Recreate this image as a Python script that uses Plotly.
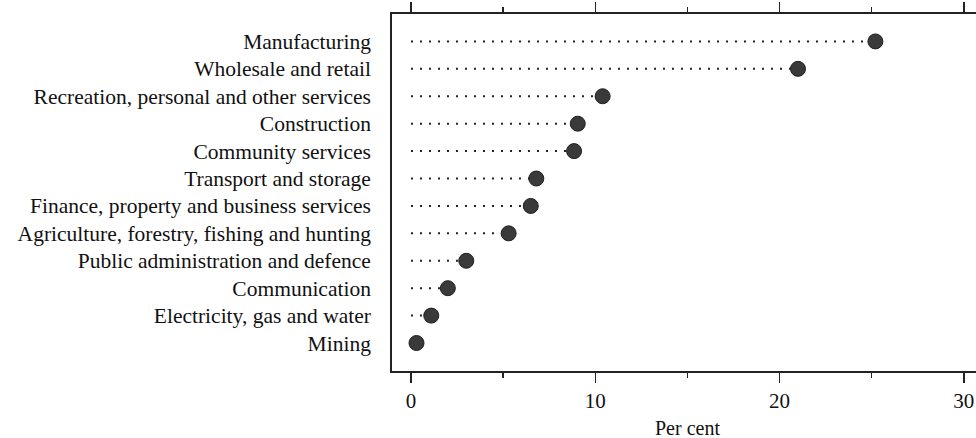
import plotly.graph_objects as go

industries = [
    "Manufacturing",
    "Wholesale and retail",
    "Recreation, personal and other services",
    "Construction",
    "Community services",
    "Transport and storage",
    "Finance, property and business services",
    "Agriculture, forestry, fishing and hunting",
    "Public administration and defence",
    "Communication",
    "Electricity, gas and water",
    "Mining",
]
per_cent = [25.2, 21.0, 10.4, 9.05, 8.85, 6.8, 6.5, 5.3, 3.0, 2.0, 1.1, 0.3]

x_ticks = [0, 10, 20, 30]
x_title = "Per cent"

FONT = "Liberation Serif, Times New Roman, serif"
INK = "#222222"

# dotted leader lines from 0 to each value
lx, ly = [], []
for name, v in zip(industries, per_cent):
    lx += [0, v, None]
    ly += [name, name, None]

fig = go.Figure()
fig.add_trace(go.Scatter(
    x=lx, y=ly, mode="lines",
    line=dict(color=INK, width=2, dash="2px,7px"),
    hoverinfo="skip", showlegend=False,
))
fig.add_trace(go.Scatter(
    x=per_cent, y=industries, mode="markers",
    marker=dict(size=15, color="#3a3a3a", line=dict(color="#1e1e1e", width=1)),
    showlegend=False,
))

fig.update_layout(
    width=976, height=438,
    margin=dict(l=392, r=0, t=14, b=67, autoexpand=False),
    paper_bgcolor="white", plot_bgcolor="white",
    font=dict(family=FONT, color="#111111"),
    xaxis=dict(
        range=[-1.03, 30.66],
        tickvals=x_ticks, ticktext=[str(t) for t in x_ticks],
        ticks="outside", ticklen=10, tickwidth=1.5, tickcolor=INK,
        minor=dict(dtick=5, tick0=0, ticks="outside", ticklen=5, tickwidth=1.5,
                   tickcolor=INK, showgrid=False),
        showline=True, linewidth=1.8, linecolor=INK, mirror="ticks",
        showgrid=False, zeroline=False, automargin=False,
        tickfont=dict(size=21, family=FONT),
    ),
    yaxis=dict(
        type="category",
        categoryorder="array", categoryarray=industries[::-1],
        range=[-1.02, 12.0],
        showline=True, linewidth=1.8, linecolor=INK, mirror=False,
        ticks="", showgrid=False, zeroline=False, automargin=False,
        ticklabelstandoff=15,
        tickfont=dict(size=21.5, family=FONT),
    ),
    annotations=[dict(
        x=15, y=0, xref="x", yref="paper", yanchor="top",
        yshift=-44, text=x_title, showarrow=False,
        font=dict(size=20, family=FONT),
    )],
)

fig.write_html(
    "out.html",
    config={"displayModeBar": False, "staticPlot": True},
    post_script="document.body.style.margin='0px';",
)
